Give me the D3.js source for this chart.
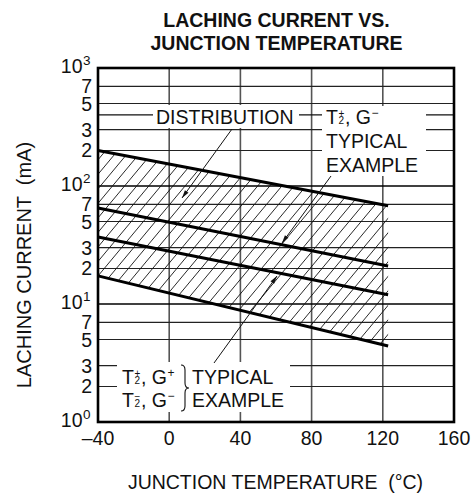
<!DOCTYPE html>
<html><head><meta charset="utf-8">
<script src="https://cdn.jsdelivr.net/npm/d3@7/dist/d3.min.js"></script>
<style>body{margin:0;background:#fff}svg{display:block}text{font-family:"Liberation Sans",Arial,Helvetica,sans-serif;fill:#111;white-space:pre}</style>
</head><body><svg id="c" width="476" height="496"></svg>
<script>
// ---- data ----
const temps = [-40, 123];
const upperBound = [200, 68];
const typicalT2pGm = [65, 21];
const typicalT2pGp = [37, 12];
const lowerBound = [17.3, 4.4];
const xTicks = [-40, 0, 40, 80, 120, 160];
const decades = [1, 10, 100, 1000];
const decadeExp = ["0", "1", "2", "3"];
const minorMult = [2, 3, 5, 7];
const leaderValue = 400;

const svg = d3.select("#c");
const L = 98, R = 454, T = 68, B = 422;
const x = d3.scaleLinear().domain([-40, 160]).range([L, R]);
const y = d3.scaleLog().domain([1, 1000]).range([B, T]);

// title
svg.append("text").attr("x", 276.5).attr("y", 26.5).attr("text-anchor", "middle")
  .attr("font-weight", "bold").attr("font-size", 19.5).text("LACHING CURRENT VS.");
svg.append("text").attr("x", 276.5).attr("y", 50).attr("text-anchor", "middle")
  .attr("font-weight", "bold").attr("font-size", 19.5).text("JUNCTION TEMPERATURE");

const g = svg.append("g");
// vertical grid
g.selectAll(".vg").data(xTicks.slice(1, -1)).join("line")
  .attr("x1", d => x(d)).attr("x2", d => x(d)).attr("y1", T).attr("y2", B)
  .attr("stroke", "#555").attr("stroke-width", 1.6);
// horizontal minor grid
const minors = [];
decades.slice(0, 3).forEach(dv => minorMult.forEach(m => minors.push(dv * m)));
g.selectAll(".hg").data(minors).join("line")
  .attr("x1", L).attr("x2", R).attr("y1", d => y(d)).attr("y2", d => y(d))
  .attr("stroke", "#222").attr("stroke-width", 1.2);
g.selectAll(".hd").data(decades.slice(1, 3)).join("line")
  .attr("x1", L).attr("x2", R).attr("y1", d => y(d)).attr("y2", d => y(d))
  .attr("stroke", "#000").attr("stroke-width", 1.6);
// leader line at 400
g.append("line").attr("x1", L).attr("x2", R).attr("y1", y(leaderValue)).attr("y2", y(leaderValue))
  .attr("stroke", "#111").attr("stroke-width", 1.2);

// hatch band
const bandPts = temps.map((t, i) => [x(t), y(upperBound[i])])
  .concat(temps.map((t, i) => [x(t), y(lowerBound[i])]).reverse());
const defs = svg.append("defs");
defs.append("clipPath").attr("id", "band").append("path")
  .attr("d", "M" + bandPts.map(p => p.join(",")).join("L") + "Z");
const hg = g.append("g").attr("clip-path", "url(#band)");
const slope = 1.2, H = 400;
d3.range(L - 400, x(temps[1]) + 10, 12.1).forEach(x0 => {
  hg.append("line").attr("x1", x0).attr("y1", B).attr("x2", x0 + H / slope).attr("y2", B - H)
    .attr("stroke", "#111").attr("stroke-width", 0.9);
});

// data lines
const line = d3.line().x(d => x(d[0])).y(d => y(d[1]));
[upperBound, typicalT2pGm, typicalT2pGp, lowerBound].forEach(s => {
  g.append("path").attr("d", line(temps.map((t, i) => [t, s[i]])))
    .attr("fill", "none").attr("stroke", "#000").attr("stroke-width", 3);
});

// white label boxes
function box(x0, y0, x1, y1) {
  g.append("rect").attr("x", x0).attr("y", y0).attr("width", x1 - x0).attr("height", y1 - y0).attr("fill", "#fff");
}
box(153, 105, 299, 128);
box(322, 106, 426, 176);
box(117, 362, 290, 412);

// arrows
function arrow(x1, y1, x2, y2) {
  g.append("line").attr("x1", x1).attr("y1", y1).attr("x2", x2).attr("y2", y2)
    .attr("stroke", "#111").attr("stroke-width", 1);
  const a = Math.atan2(y2 - y1, x2 - x1), len = 8, w = 2.2;
  const bx = x2 - len * Math.cos(a), by = y2 - len * Math.sin(a);
  const px = -Math.sin(a) * w, py = Math.cos(a) * w;
  g.append("path").attr("d", `M${x2},${y2}L${bx + px},${by + py}L${bx - px},${by - py}Z`).attr("fill", "#111");
}
arrow(232, 129, 182, 198);
arrow(331, 176, 282, 243);
arrow(214, 363, 277, 276);

// border
g.append("rect").attr("x", L).attr("y", T).attr("width", R - L).attr("height", B - T)
  .attr("fill", "none").attr("stroke", "#000").attr("stroke-width", 2.6);

const FS = 19.5;
// annotation texts
svg.append("text").attr("x", 156).attr("y", 123.5).attr("font-size", FS).text("DISTRIBUTION");
function tlabel(x0, yb, sign1, sign2) {
  const t = svg.append("text").attr("x", x0).attr("y", yb).attr("font-size", FS);
  t.append("tspan").text("T");
  const s1 = t.append("tspan").attr("font-size", 10).attr("dx", 0.5).attr("dy", -7).text(sign1);
  const w1 = s1.node().getComputedTextLength();
  t.append("tspan").attr("font-size", 10).attr("dx", -w1).attr("dy", 7).text("2");
  t.append("tspan").attr("dx", 1).text(", G");
  t.append("tspan").attr("font-size", 12).attr("dx", 0.5).attr("dy", -7).text(sign2);
}
tlabel(326, 123.5, "+", "\u2212");
svg.append("text").attr("x", 326).attr("y", 148).attr("font-size", FS).text("TYPICAL");
svg.append("text").attr("x", 326).attr("y", 171.5).attr("font-size", FS).text("EXAMPLE");

tlabel(122, 384, "+", "+");
tlabel(122, 407, "\u2212", "\u2212");
svg.append("text").attr("x", 192).attr("y", 384).attr("font-size", FS).text("TYPICAL");
svg.append("text").attr("x", 192).attr("y", 407).attr("font-size", FS).text("EXAMPLE");
// brace
g.append("path").attr("d", "M181,365 Q185,365 185,370 L185,383 Q185,388 189,388 Q185,388 185,393 L185,406 Q185,411 181,411")
  .attr("fill", "none").attr("stroke", "#111").attr("stroke-width", 1.1);

// axis tick labels
svg.selectAll(".xt").data(xTicks).join("text")
  .attr("x", d => x(d)).attr("y", 445).attr("text-anchor", "middle").attr("font-size", FS)
  .text(d => d < 0 ? "\u2013" + Math.abs(d) : d);
const minorLabs = [];
decades.slice(0, 3).forEach(dv => minorMult.forEach(m => minorLabs.push({v: dv * m, m})));
svg.selectAll(".ym").data(minorLabs).join("text")
  .attr("x", 92).attr("y", d => y(d.v) + 7).attr("text-anchor", "end").attr("font-size", FS)
  .text(d => d.m);
decades.forEach((dv, i) => {
  const t = svg.append("text").attr("x", 82.5).attr("y", y(dv) + 5).attr("font-size", FS).attr("text-anchor", "end");
  t.text("10");
  svg.append("text").attr("x", 83).attr("y", y(dv) - 3).attr("font-size", 13.5).text(decadeExp[i]);
});

// axis titles
svg.append("text").attr("transform", "translate(31,265) rotate(-90)").attr("text-anchor", "middle")
  .attr("font-size", 20).text("LACHING CURRENT  (mA)");
svg.append("text").attr("x", 275.5).attr("y", 489).attr("text-anchor", "middle")
  .attr("font-size", FS).text("JUNCTION TEMPERATURE  (\u00B0C)");
</script></body></html>
